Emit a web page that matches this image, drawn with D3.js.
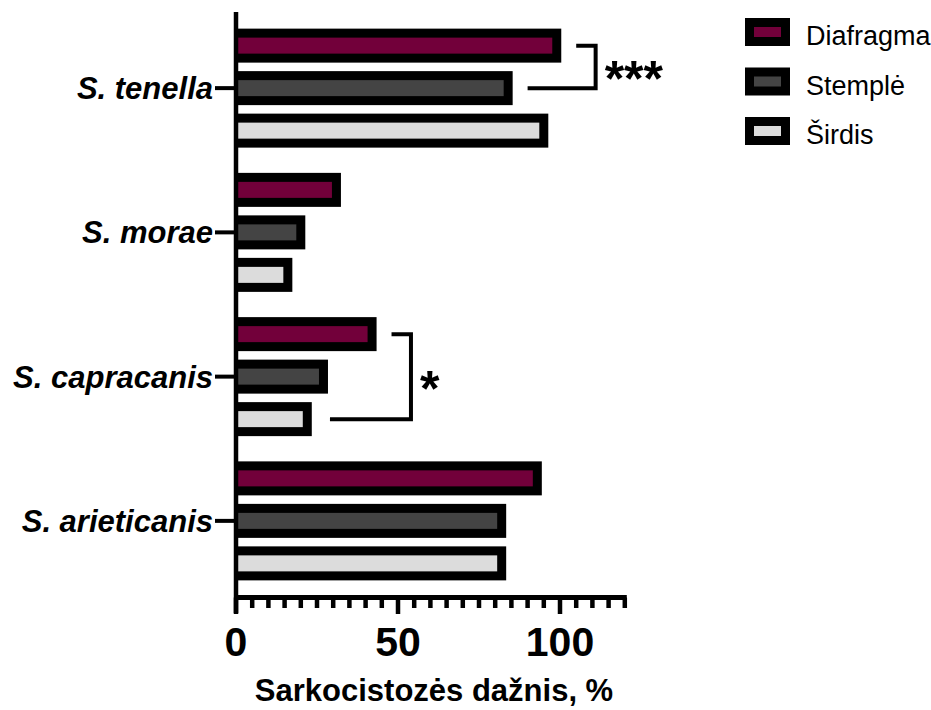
<!DOCTYPE html>
<html>
<head>
<meta charset="utf-8">
<script src="https://cdn.jsdelivr.net/npm/d3@7"></script>
<style>
  html, body { margin: 0; padding: 0; background: #fff; }
  svg { display: block; font-family: "Liberation Sans", Arial, sans-serif; }
</style>
</head>
<body>
<svg id="chart" width="931" height="710"></svg>
<script>
const categories = ["S. tenella", "S. morae", "S. capracanis", "S. arieticanis"];
const series = ["Diafragma", "Stemplė", "Širdis"];
const diafragma = [99, 31, 42, 93];
const stemple = [84, 20, 27, 82];
const sirdis = [95, 16, 22, 82];
const majorTicks = [0, 50, 100];
const minorTicks = d3.range(5, 121, 5);
const brackets = [
    {cat: "S. tenella", from: "Diafragma", to: "Stemplė", fromX: 105, toX: 90, edgeX: 111, label: "***"},
    {cat: "S. capracanis", from: "Diafragma", to: "Širdis", fromX: 48, toX: 29, edgeX: 54, label: "*"}
];

const values = {"Diafragma": diafragma, "Stemplė": stemple, "Širdis": sirdis};
const color = d3.scaleOrdinal().domain(series).range(["#72003a", "#444444", "#dcdcdc"]);

const svg = d3.select("#chart");

const x = d3.scaleLinear().domain([0, 120]).range([236, 624.8]);
const y = d3.scaleBand().domain(categories).range([16, 593]);
const yIn = d3.scalePoint().domain(series).range([-42.5, 42.5]);
const center = (c, s) => y(c) + y.bandwidth() / 2 + yIn(s);

const barH = 34, border = 9;

// bars
const rows = [];
categories.forEach((c, i) => series.forEach(s => rows.push({cat: c, ser: s, v: values[s][i]})));

const bar = svg.append("g").selectAll("g").data(rows).enter().append("g");
bar.append("rect")
    .attr("x", x(0))
    .attr("y", d => center(d.cat, d.ser) - barH / 2)
    .attr("width", d => x(d.v) - x(0) + border / 2)
    .attr("height", barH)
    .attr("fill", "#000");
bar.append("rect")
    .attr("x", x(0) + 2)
    .attr("y", d => center(d.cat, d.ser) - barH / 2 + border)
    .attr("width", d => x(d.v) - x(0) - 2 - border / 2)
    .attr("height", barH - 2 * border)
    .attr("fill", d => color(d.ser));

// y axis
const yAxisG = svg.append("g");
yAxisG.append("line")
    .attr("x1", x(0)).attr("x2", x(0))
    .attr("y1", 12).attr("y2", 613)
    .attr("stroke", "#000").attr("stroke-width", 4.5);
yAxisG.selectAll(".ytick").data(categories).enter().append("line")
    .attr("x1", 215).attr("x2", x(0))
    .attr("y1", d => y(d) + y.bandwidth() / 2)
    .attr("y2", d => y(d) + y.bandwidth() / 2)
    .attr("stroke", "#000").attr("stroke-width", 4);
yAxisG.selectAll(".ylab").data(categories).enter().append("text")
    .attr("x", 213)
    .attr("y", d => y(d) + y.bandwidth() / 2 + 11)
    .attr("text-anchor", "end")
    .attr("font-size", 31).attr("font-weight", "bold").attr("font-style", "italic")
    .text(d => d);

// x axis
const axisY = 597.5;
const xAxisG = svg.append("g");
xAxisG.append("line")
    .attr("x1", x(0) - 2).attr("x2", x(120) + 2)
    .attr("y1", axisY).attr("y2", axisY)
    .attr("stroke", "#000").attr("stroke-width", 5);
xAxisG.selectAll(".minor").data(minorTicks.filter(t => !majorTicks.includes(t))).enter().append("line")
    .attr("x1", d => x(d)).attr("x2", d => x(d))
    .attr("y1", axisY).attr("y2", 608)
    .attr("stroke", "#000").attr("stroke-width", 4.5);
xAxisG.selectAll(".major").data(majorTicks).enter().append("line")
    .attr("x1", d => x(d)).attr("x2", d => x(d))
    .attr("y1", axisY).attr("y2", 614)
    .attr("stroke", "#000").attr("stroke-width", 4.5);
xAxisG.selectAll(".xlab").data(majorTicks).enter().append("text")
    .attr("x", d => x(d)).attr("y", 656)
    .attr("text-anchor", "middle")
    .attr("font-size", 41).attr("font-weight", "bold")
    .text(d => d);
svg.append("text")
    .attr("x", 434).attr("y", 701)
    .attr("text-anchor", "middle")
    .attr("font-size", 31).attr("font-weight", "bold")
    .text("Sarkocistozės dažnis, %");

// significance brackets
brackets.forEach(b => {
    const y1 = center(b.cat, b.from), y2 = center(b.cat, b.to);
    svg.append("path")
        .attr("d", `M${x(b.fromX)},${y1}H${x(b.edgeX)}V${y2}H${x(b.toX)}`)
        .attr("fill", "none").attr("stroke", "#000").attr("stroke-width", 4);
    svg.append("text")
        .attr("x", x(b.edgeX) + 9)
        .attr("y", (y1 + y2) / 2 + 29)
        .attr("font-size", 50).attr("font-weight", "bold")
        .text(b.label);
});

// legend
const leg = svg.append("g").selectAll("g").data(series).enter().append("g")
    .attr("transform", (d, i) => `translate(745,${32 + i * 49.5})`);
leg.append("rect")
    .attr("x", 0).attr("y", -14).attr("width", 45).attr("height", 28)
    .attr("fill", "#000");
leg.append("rect")
    .attr("x", border).attr("y", -5).attr("width", 45 - 2 * border).attr("height", 10)
    .attr("fill", d => color(d));
leg.append("text")
    .attr("x", 61).attr("y", 13)
    .attr("font-size", 27)
    .text(d => d);
</script>
</body>
</html>
